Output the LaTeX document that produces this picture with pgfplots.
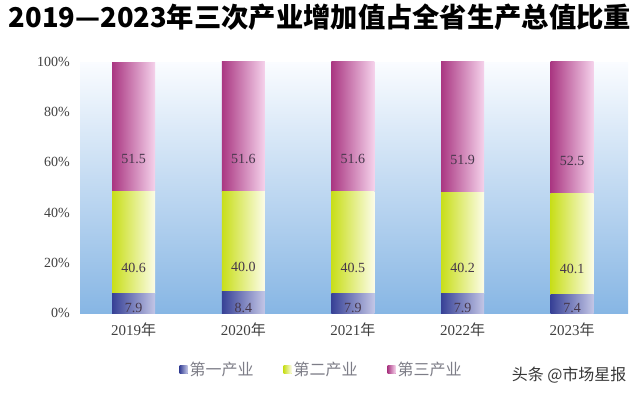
\documentclass[border=0pt]{standalone}
\usepackage{pgfplots}
\pgfplotsset{compat=1.18}
\usepackage{fontspec}
\setmainfont{Liberation Serif}
\newfontfamily\cjk{Noto Sans CJK SC}
\definecolor{bgtop}{RGB}{250,252,255}
\definecolor{bgbot}{RGB}{135,182,228}
\definecolor{bL}{RGB}{55,65,150}
\definecolor{bC}{RGB}{95,102,175}
\definecolor{bR}{RGB}{195,198,230}
\definecolor{bM}{RGB}{95,100,175}
\definecolor{gL}{RGB}{200,222,25}
\definecolor{gC}{RGB}{222,236,70}
\definecolor{gR}{RGB}{252,252,232}
\definecolor{gM}{RGB}{215,230,60}
\definecolor{mL}{RGB}{170,55,130}
\definecolor{mC}{RGB}{205,100,165}
\definecolor{mR}{RGB}{245,210,235}
\definecolor{mM}{RGB}{200,95,160}
\definecolor{lblc}{RGB}{70,55,75}
\definecolor{legc}{RGB}{125,125,135}
\definecolor{wmc}{RGB}{55,55,55}
\pgfplotsset{
  geom/.style={
    at={(80pt,84pt)}, anchor=south west,
    scale only axis, width=548pt, height=251pt,
    ybar stacked, bar width=43pt,
    xmin=-0.49, xmax=4.51, ymin=0, ymax=100,
    /pgf/number format/assume math mode=true,
    nodes near coords={\pgfmathprintnumber[fixed,fixed zerofill,precision=1]{\pgfplotspointmeta}},
    visualization depends on=rawy \as \rawy,
    every node near coord/.append style={font=\fontsize{14}{16}\selectfont, text=lblc, anchor=center, yshift=-\rawy*0.6275pt},
  },
  overlay axis/.style={geom, hide axis},
  sB/.style={draw=none, left color=bL, middle color=bC, right color=bR},
  sG/.style={draw=none, left color=gL, middle color=gC, right color=gR},
  sM/.style={draw=none, left color=mL, middle color=mC, right color=mR},
}
\begin{document}
\begin{tikzpicture}[x=1pt,y=1pt]
\useasboundingbox (0,0) rectangle (640,397);
\node[font=\cjk\bfseries\fontsize{27.3}{30}\selectfont, anchor=center] at (320,380) {2019—2023年三次产业增加值占全省生产总值比重};
\begin{axis}[
  geom,
  xtick={0,1,2,3,4},
  xticklabels={2019{\cjk 年},2020{\cjk 年},2021{\cjk 年},2022{\cjk 年},2023{\cjk 年}},
  ytick={0,20,40,60,80,100},
  yticklabel={\pgfmathprintnumber{\tick}\%},
  axis line style={draw=none}, major tick length=0pt,
  axis background/.style={top color=bgtop, bottom color=bgbot},
  yticklabel style={font=\fontsize{14}{16}\selectfont, text=black!75, inner sep=0pt, xshift=-10pt},
  xticklabel style={font=\fontsize{15}{17}\selectfont, text=black!75, inner sep=0pt, yshift=-10pt},
  legend columns=3,
  legend style={at={(0.4407,-0.227)}, anchor=center, draw=none, fill=none,
    font=\cjk\fontsize{16}{18}\selectfont, text=legc,
    /tikz/every even column/.append style={column sep=28pt}},
]
\addplot[sB, legend image code/.code={\fill[bM] (0pt,-4pt) rectangle (8pt,4pt);}]
  coordinates {(0,7.9)};
\addlegendentry{第一产业}
\addplot[sG, legend image code/.code={\fill[gM] (0pt,-4pt) rectangle (8pt,4pt);}]
  coordinates {(0,40.6)};
\addlegendentry{第二产业}
\addplot[sM, legend image code/.code={\fill[mM] (0pt,-4pt) rectangle (8pt,4pt);}]
  coordinates {(0,51.5)};
\addlegendentry{第三产业}
\end{axis}
\begin{axis}[overlay axis]
\addplot[sB] coordinates {(1,8.4)};
\addplot[sG] coordinates {(1,40.0)};
\addplot[sM] coordinates {(1,51.6)};
\end{axis}
\begin{axis}[overlay axis]
\addplot[sB] coordinates {(2,7.9)};
\addplot[sG] coordinates {(2,40.5)};
\addplot[sM] coordinates {(2,51.6)};
\end{axis}
\begin{axis}[overlay axis]
\addplot[sB] coordinates {(3,7.9)};
\addplot[sG] coordinates {(3,40.2)};
\addplot[sM] coordinates {(3,51.9)};
\end{axis}
\begin{axis}[overlay axis]
\addplot[sB] coordinates {(4,7.4)};
\addplot[sG] coordinates {(4,40.1)};
\addplot[sM] coordinates {(4,52.5)};
\end{axis}
\node[font=\cjk\fontsize{16}{18}\selectfont, text=wmc, anchor=east] at (630,22) {头条 @市场星报};
\end{tikzpicture}
\end{document}
